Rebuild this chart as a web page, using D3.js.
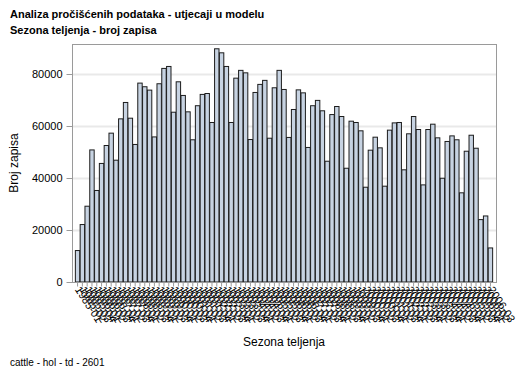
<!DOCTYPE html>
<html>
<head>
<meta charset="utf-8">
<script src="https://cdn.jsdelivr.net/npm/d3@7"></script>
<style>
  body { margin: 0; background: #fff; }
  text { font-family: "Liberation Sans", Arial, sans-serif; }
</style>
</head>
<body>
<div id="chart"></div>
<script>
// Season labels (year-season) and record counts per season
var seasons = [
  "1985-01","1985-02","1985-03","1985-04",
  "1986-01","1986-02","1986-03","1986-04",
  "1987-01","1987-02","1987-03","1987-04",
  "1988-01","1988-02","1988-03","1988-04",
  "1989-01","1989-02","1989-03","1989-04",
  "1990-01","1990-02","1990-03","1990-04",
  "1991-01","1991-02","1991-03","1991-04",
  "1992-01","1992-02","1992-03","1992-04",
  "1993-01","1993-02","1993-03","1993-04",
  "1994-01","1994-02","1994-03","1994-04",
  "1995-01","1995-02","1995-03","1995-04",
  "1996-01","1996-02","1996-03","1996-04",
  "1997-01","1997-02","1997-03","1997-04",
  "1998-01","1998-02","1998-03","1998-04",
  "1999-01","1999-02","1999-03","1999-04",
  "2000-01","2000-02","2000-03","2000-04",
  "2001-01","2001-02","2001-03","2001-04",
  "2002-01","2002-02","2002-03","2002-04",
  "2003-01","2003-02","2003-03","2003-04",
  "2004-01","2004-02","2004-03","2004-04",
  "2005-01","2005-02","2005-03","2005-04",
  "2006-01","2006-02","2006-03"
];

var counts = [
  12100, 22100, 29150, 50800, 35200, 45600, 52500, 57250,
  46850, 62750, 69050, 63000, 52900, 76500, 75100, 73800,
  55800, 76250, 82150, 82900, 65300, 77000, 71750, 65450,
  54700, 67800, 72150, 72500, 61350, 89700, 88150, 82900,
  61350, 78400, 81400, 80450, 54800, 72900, 76000, 77550,
  55300, 74700, 81400, 74050, 55600, 66350, 73900, 72750,
  51750, 67800, 69850, 65850, 46450, 64400, 67500, 63650,
  43750, 61850, 61350, 58150, 36450, 50700, 55700, 51600,
  36850, 58400, 61200, 61350, 43150, 57000, 63650, 58650,
  37350, 58650, 60700, 55450, 39900, 54050, 56200, 54700,
  34300, 50300, 56450, 51450, 24000, 25400, 13100
];

var yTicks = [0, 20000, 40000, 60000, 80000];

var W = 529, H = 378;
var plot = {left: 72, right: 496, top: 44, bottom: 282};

var svg = d3.select("#chart").append("svg")
    .attr("width", W)
    .attr("height", H);

// Scales
var x = d3.scaleBand()
    .domain(seasons)
    .range([plot.left, plot.right])
    .paddingInner(0.08)
    .paddingOuter(0.7);

var y = d3.scaleLinear()
    .domain([0, 80000])
    .range([plot.bottom, 74]);

// Gridlines
svg.append("g")
  .selectAll("line")
  .data(yTicks.filter(d => d > 0))
  .enter().append("line")
    .attr("x1", plot.left)
    .attr("x2", plot.right)
    .attr("y1", d => Math.round(y(d)) + 0.5)
    .attr("y2", d => Math.round(y(d)) + 0.5)
    .style("stroke", "#e9e9e9")
    .style("stroke-width", 2);

// Bars
svg.append("g")
  .selectAll("rect")
  .data(counts)
  .enter().append("rect")
    .attr("x", (d, i) => x(seasons[i]))
    .attr("y", d => y(d))
    .attr("width", x.bandwidth())
    .attr("height", d => plot.bottom - y(d))
    .style("fill", "#c7d3e2")
    .style("stroke", "#1c1c1c")
    .style("stroke-width", 1);

// Frame
svg.append("rect")
    .attr("x", plot.left + 0.5)
    .attr("y", plot.top + 0.5)
    .attr("width", plot.right - plot.left)
    .attr("height", plot.bottom - plot.top)
    .style("fill", "none")
    .style("stroke", "#9a9a9a");

// Y axis
var yAxis = svg.append("g")
    .attr("transform", "translate(" + (plot.left + 0.5) + ",0)")
    .call(d3.axisLeft(y).tickValues(yTicks).tickSize(6).tickPadding(4).tickFormat(d3.format("d")));
yAxis.select(".domain").remove();
yAxis.selectAll(".tick line").style("stroke", "#9a9a9a");
yAxis.selectAll(".tick text")
    .style("font-size", "11px")
    .style("fill", "#000");

// X axis
var xAxis = svg.append("g")
    .attr("transform", "translate(0," + (plot.bottom + 0.5) + ")")
    .call(d3.axisBottom(x).tickSize(4).tickSizeOuter(0));
xAxis.select(".domain").remove();
xAxis.selectAll(".tick line").style("stroke", "#9a9a9a");
xAxis.selectAll(".tick text")
    .attr("y", 0)
    .attr("dy", 0)
    .attr("transform", "translate(-3,7) rotate(57)")
    .style("text-anchor", "start")
    .style("font-size", "11px")
    .style("fill", "#000");

// Axis titles
svg.append("text")
    .attr("transform", "translate(18," + ((plot.top + plot.bottom) / 2) + ") rotate(-90)")
    .style("text-anchor", "middle")
    .style("font-size", "12px")
    .text("Broj zapisa");

svg.append("text")
    .attr("x", (plot.left + plot.right) / 2)
    .attr("y", 346)
    .style("text-anchor", "middle")
    .style("font-size", "12px")
    .text("Sezona teljenja");

// Titles
svg.append("text")
    .attr("x", 10)
    .attr("y", 18)
    .style("font-size", "11px")
    .style("font-weight", "bold")
    .text("Analiza pročišćenih podataka - utjecaji u modelu");

svg.append("text")
    .attr("x", 10)
    .attr("y", 34)
    .style("font-size", "11px")
    .style("font-weight", "bold")
    .text("Sezona teljenja - broj zapisa");

// Footnote
svg.append("text")
    .attr("x", 10)
    .attr("y", 366)
    .style("font-size", "10px")
    .text("cattle - hol - td - 2601");
</script>
</body>
</html>
